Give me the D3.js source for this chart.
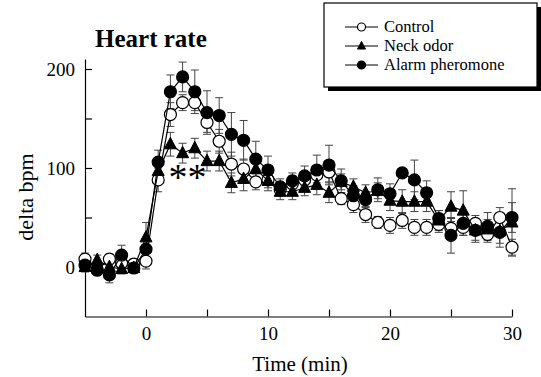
<!DOCTYPE html>
<html>
<head>
<meta charset="utf-8">
<script src="https://cdn.jsdelivr.net/npm/d3@7"></script>
<style>
  body { margin: 0; background: #fff; }
  svg text { font-family: "Liberation Serif", "Times New Roman", serif; fill: #000; }
</style>
</head>
<body>
<svg id="chart" width="541" height="377"></svg>
<script>
// minutes relative to odor onset
var times = [-5,-4,-3,-2,-1,0,1,2,3,4,5,6,7,8,9,10,11,12,13,14,15,16,17,18,19,20,21,22,23,24,25,26,27,28,29,30];

var controlVals = [8,-3,8,4,3,6,88,154,166,166,146,127,104,99,86,88,78,84,88,93,96,69,63,53,45,42,47,40,40,43,39,40,44,33,50,20];
var controlErr  = [6,5,5,5,5,8,12,12,8,8,10,12,12,10,8,8,6,8,8,8,10,6,8,8,6,8,8,8,8,8,10,8,8,8,10,8];

var neckVals = [0,7,0,-2,-1,30,97,124,115,120,107,107,85,89,99,87,76,76,80,83,75,86,81,75,77,67,66,66,66,47,61,57,37,38,36,45];
var neckErr  = [5,5,5,5,5,15,10,12,10,10,10,10,10,12,10,10,8,8,8,10,10,8,8,8,8,10,12,10,10,10,15,20,12,10,12,34];

var alarmVals = [2,-3,-8,12,-1,18,106,177,192,177,156,153,134,128,109,98,81,87,92,98,103,87,72,68,78,74,95,88,75,49,32,44,37,41,35,50];
var alarmErr  = [5,5,8,10,5,10,12,17,15,22,22,18,22,20,18,14,8,8,10,15,20,12,10,8,12,10,4,20,12,8,18,12,10,14,15,15];

var seriesNames = ["Control", "Neck odor", "Alarm pheromone"];
var xTicks = [0,5,10,15,20,25,30];
var yTicks = [0,50,100,150,200];

var svg = d3.select("#chart");

var x = d3.scaleLinear().domain([-5, 30]).range([85, 512]);
var y = d3.scaleLinear().domain([-50, 210]).range([316.5, 59.1]);

// axes
var xAxis = d3.axisBottom(x)
  .tickValues(xTicks)
  .tickSizeInner(-7).tickSizeOuter(0).tickPadding(10)
  .tickFormat(function(d){ return d % 10 === 0 ? d : ""; });
var xg = svg.append("g").attr("transform", "translate(0," + y(-50) + ")").call(xAxis);

var yAxis = d3.axisLeft(y)
  .tickValues(yTicks)
  .tickSizeInner(-7).tickSizeOuter(0).tickPadding(10)
  .tickFormat(function(d){ return d % 100 === 0 ? d : ""; });
var yg = svg.append("g").attr("transform", "translate(" + x(-5) + ",0)").call(yAxis);

[xg, yg].forEach(function(g){
  g.attr("font-family", null);
  g.selectAll("path, line").attr("stroke", "#000").attr("stroke-width", 1.2);
  g.selectAll("text").style("font-size", "19px").style("font-family", "'Liberation Serif', serif");
});

// axis titles
svg.append("text").attr("x", 300).attr("y", 371).attr("text-anchor", "middle")
  .style("font-size", "21px").text("Time (min)");
svg.append("text").attr("transform", "translate(33,197) rotate(-90)").attr("text-anchor", "middle")
  .style("font-size", "22px").text("delta bpm");
svg.append("text").attr("x", 95).attr("y", 47)
  .style("font-size", "25px").style("font-weight", "bold").text("Heart rate");

var series = [
  { name: seriesNames[0], vals: controlVals, err: controlErr, shape: "circle", fill: "#fff" },
  { name: seriesNames[1], vals: neckVals, err: neckErr, shape: "triangle", fill: "#000" },
  { name: seriesNames[2], vals: alarmVals, err: alarmErr, shape: "circle", fill: "#000" }
];

function marker(g, s, cx, cy, r) {
  if (s.shape === "circle") {
    g.append("circle").attr("cx", cx).attr("cy", cy).attr("r", r)
      .attr("fill", s.fill).attr("stroke", "#000").attr("stroke-width", 1.2);
  } else {
    var h = r * 1.9;
    g.append("path")
      .attr("d", "M" + cx + "," + (cy - h * 0.6) + "L" + (cx + r) + "," + (cy + h * 0.4) + "L" + (cx - r) + "," + (cy + h * 0.4) + "Z")
      .attr("fill", s.fill).attr("stroke", "#000").attr("stroke-width", 1);
  }
}

var line = d3.line().x(function(d){ return x(d[0]); }).y(function(d){ return y(d[1]); });

// error bars first
var eg = svg.append("g");
series.forEach(function(s){
  times.forEach(function(t, i){
    var cx = x(t), lo = y(s.vals[i] - s.err[i]), hi = y(s.vals[i] + s.err[i]);
    eg.append("line").attr("x1", cx).attr("x2", cx).attr("y1", lo).attr("y2", hi)
      .attr("stroke", "#444").attr("stroke-width", 1);
    [lo, hi].forEach(function(yy){
      eg.append("line").attr("x1", cx - 4).attr("x2", cx + 4).attr("y1", yy).attr("y2", yy)
        .attr("stroke", "#444").attr("stroke-width", 1);
    });
  });
});

series.forEach(function(s){
  var pts = times.map(function(t, i){ return [t, s.vals[i]]; });
  var g = svg.append("g");
  g.append("path").datum(pts).attr("d", line).attr("fill", "none")
    .attr("stroke", "#000").attr("stroke-width", 1.2);
  pts.forEach(function(p){ marker(g, s, x(p[0]), y(p[1]), 6); });
});

// significance mark
svg.append("text").attr("x", x(3.4)).attr("y", 190).attr("text-anchor", "middle")
  .style("font-size", "38px").text("**");

// legend box
var lg = svg.append("g");
lg.append("rect").attr("x", 328).attr("y", 7).attr("width", 213).attr("height", 84).attr("fill", "#000");
lg.append("rect").attr("x", 324).attr("y", 3).attr("width", 213).attr("height", 84)
  .attr("fill", "#fff").attr("stroke", "#000").attr("stroke-width", 1.2);
series.forEach(function(s, i){
  var ly = 27 + i * 19;
  lg.append("line").attr("x1", 345).attr("x2", 378).attr("y1", ly).attr("y2", ly)
    .attr("stroke", "#000").attr("stroke-width", 1);
  marker(lg, s, 361.5, ly, 4);
  lg.append("text").attr("x", 384).attr("y", ly + 5).style("font-size", "16.5px").text(s.name);
});
</script>
</body>
</html>
